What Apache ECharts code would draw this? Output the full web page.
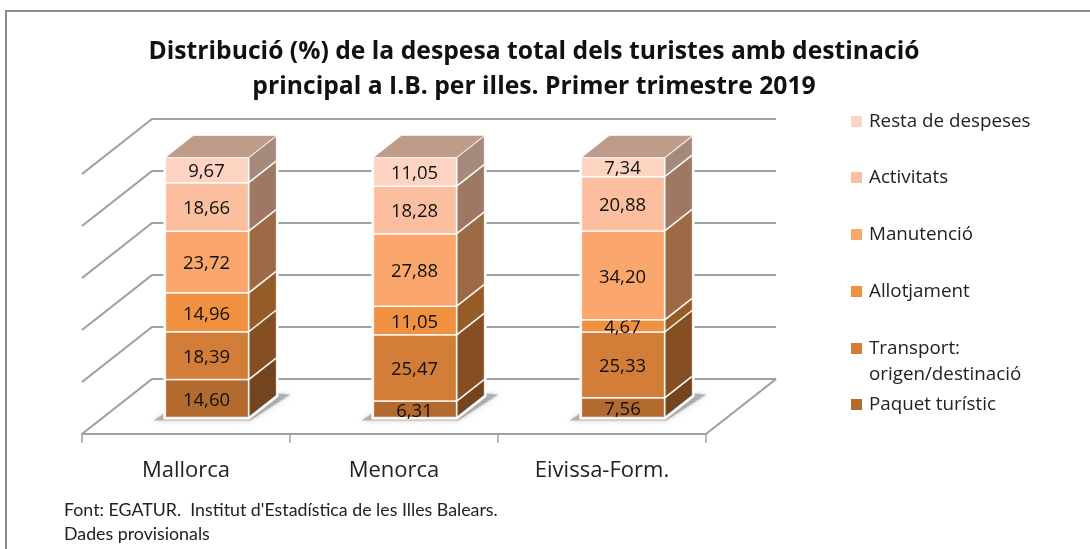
<!DOCTYPE html>
<html>
<head>
<meta charset="utf-8">
<title>Distribució de la despesa</title>
<script src="https://cdn.jsdelivr.net/npm/echarts@6/dist/echarts.min.js"></script>
<style>
html, body { margin: 0; background: #fff; }
#main { width: 1090px; height: 549px; }
</style>
</head>
<body>
<div id="main"></div>
<script>
const categories = ['Mallorca', 'Menorca', 'Eivissa-Form.'];
const yTicks = [0, 20, 40, 60, 80, 100];

// de baix a dalt, igual que la pila
const paquet = [14.60, 6.31, 7.56];
const transport = [18.39, 25.47, 25.33];
const allotjament = [14.96, 11.05, 4.67];
const manutencio = [23.72, 27.88, 34.20];
const activitats = [18.66, 18.28, 20.88];
const resta = [9.67, 11.05, 7.34];

const seriesNames = ['Paquet turístic', 'Transport:', 'Allotjament', 'Manutenció', 'Activitats', 'Resta de despeses'];
const seriesValues = [paquet, transport, allotjament, manutencio, activitats, resta];
const frontColors = ['#b36a2f', '#d27e38', '#ef9140', '#fba66c', '#fbbe9f', '#fdd3c1'];
const sideColors = ['#74441e', '#864f23', '#965c28', '#9c6b46', '#9e7862', '#a4897c'];
const topColor = '#bf9b89';
const legendTops = [395, 339, 282, 225, 168, 112];

// profunditat del dibuix 3D
const depthX = 70;
const depthY = 55;
const barFront = 0.3;
const barBack = 0.7;
const barRatio = 0.4;
const gridColor = '#a0a0a0';

function project(p, d) {
	return [p[0] + d * depthX, p[1] - d * depthY];
}

function renderWall(params, api) {
	const cs = params.coordSys;
	const y = api.coord([0, api.value(0)])[1];
	const left = [cs.x, y];
	const right = [cs.x + cs.width, y];
	const lineStyle = { stroke: gridColor, lineWidth: 2.2, fill: null };
	const children = [{
		type: 'polyline',
		shape: { points: [left, project(left, 1), project(right, 1)] },
		style: lineStyle
	}];
	// lateral dret del terra
	if (params.dataIndex === 0) {
		children.push({
			type: 'polyline',
			shape: { points: [right, project(right, 1)] },
			style: lineStyle
		});
	}
	return { type: 'group', children: children };
}

function barCorners(api, idx, value) {
	const c = api.coord([idx, value]);
	const w = api.size([1, 0])[0] * barRatio;
	const fl = project([c[0] - w / 2, c[1]], barFront);
	const fr = project([c[0] + w / 2, c[1]], barFront);
	const bl = project([c[0] - w / 2, c[1]], barBack);
	const br = project([c[0] + w / 2, c[1]], barBack);
	return { fl: fl, fr: fr, bl: bl, br: br };
}

function renderBackdrop(params, api) {
	const idx = params.dataIndex;
	const low = barCorners(api, idx, 0);
	const high = barCorners(api, idx, 100);
	const o = low.fl;
	return {
		type: 'group',
		children: [{
			type: 'polygon',
			shape: { points: [
				[o[0] - 12, o[1] + 3],
				[o[0] + 85, o[1] + 3],
				[o[0] + 125, o[1] - 23],
				[o[0] + 113, o[1] - 24],
				[o[0] + 30, o[1] - 24]
			] },
			style: { fill: 'rgba(160,160,160,0.75)', shadowBlur: 5, shadowColor: 'rgba(170,170,170,0.8)' }
		}, {
			type: 'polygon',
			shape: { points: [low.fl, low.fr, low.br, high.br, high.bl, high.fl] },
			style: { fill: '#fff', stroke: '#fff', lineWidth: 4 }
		}]
	};
}

function renderSegment(params, api) {
	const idx = params.dataIndex;
	const sIdx = params.seriesIndex - 2;
	const low = barCorners(api, idx, api.value(1));
	const high = barCorners(api, idx, api.value(2));
	const edge = { stroke: 'rgba(255,255,255,0.85)', lineWidth: 1.5 };
	const children = [{
		type: 'polygon',
		shape: { points: [low.fr, low.br, high.br, high.fr] },
		style: Object.assign({ fill: sideColors[sIdx] }, edge)
	}, {
		type: 'rect',
		shape: { x: low.fl[0], y: high.fl[1], width: low.fr[0] - low.fl[0], height: low.fl[1] - high.fl[1] },
		style: Object.assign({ fill: frontColors[sIdx] }, edge)
	}];
	if (sIdx === seriesValues.length - 1) {
		children.push({
			type: 'polygon',
			shape: { points: [high.fl, high.fr, high.br, high.bl] },
			style: { fill: topColor, stroke: 'rgba(255,255,255,0.6)', lineWidth: 1 }
		});
	}
	children.push({
		type: 'text',
		style: {
			x: (low.fl[0] + low.fr[0]) / 2 - 0.5,
			y: (low.fl[1] + high.fl[1]) / 2 + 2,
			text: api.value(3).toFixed(2).replace('.', ','),
			fill: '#111',
			font: '18.5px "Open Sans"',
			align: 'center',
			verticalAlign: 'middle'
		}
	});
	return { type: 'group', children: children };
}

const segmentSeries = seriesValues.map(function (values, s) {
	return {
		name: seriesNames[s],
		type: 'custom',
		renderItem: renderSegment,
		clip: false,
		itemStyle: { color: frontColors[s] },
		encode: { x: 0, y: [1, 2] },
		data: values.map(function (v, i) {
			let base = 0;
			for (let k = 0; k < s; k++) {
				base += seriesValues[k][i];
			}
			return [i, base, base + v, v];
		})
	};
});

const legends = seriesNames.map(function (name, s) {
	return {
		data: [name],
		orient: 'vertical',
		left: 851,
		top: legendTops[s],
		padding: 0,
		icon: 'rect',
		itemWidth: 11,
		itemHeight: 11,
		selectedMode: false,
		textStyle: { fontFamily: 'Open Sans', fontSize: 18.8, color: '#222', padding: [0, 0, 0, 2] }
	};
});

const myChart = echarts.init(document.getElementById('main'));
myChart.setOption({
	animation: false,
	backgroundColor: '#fff',
	textStyle: { fontFamily: 'Open Sans' },
	title: {
		text: 'Distribució (%) de la despesa total dels turistes amb destinació\nprincipal a I.B. per illes. Primer trimestre 2019',
		left: 529,
		top: 29,
		textAlign: 'center',
		textStyle: { fontFamily: 'Open Sans', fontSize: 24.7, fontWeight: 'bold', color: '#111', lineHeight: 35 }
	},
	legend: legends,
	grid: { left: 82, width: 624, top: 174, height: 260 },
	xAxis: {
		type: 'category',
		data: categories,
		axisLine: { lineStyle: { color: gridColor, width: 2 } },
		axisTick: { show: true, length: 9, lineStyle: { color: gridColor, width: 1.5 } },
		axisLabel: { fontFamily: 'Open Sans', fontSize: 22, color: '#222', margin: 26 }
	},
	yAxis: {
		type: 'value',
		min: 0,
		max: 100,
		interval: 20,
		show: false
	},
	graphic: [{
		type: 'polyline',
		shape: { points: [[6, 549], [6, 11], [1090, 11]] },
		style: { stroke: '#8c8c8c', lineWidth: 2, fill: null },
		silent: true
	}, {
		type: 'text',
		style: { x: 869, y: 375, text: 'origen/destinació', font: '18.8px "Open Sans"', fill: '#222', verticalAlign: 'middle' }
	}, {
		type: 'text',
		style: { x: 64, y: 510, text: "Font: EGATUR.  Institut d'Estadística de les Illes Balears.", font: '17.8px Lato', fill: '#222', verticalAlign: 'middle' }
	}, {
		type: 'text',
		style: { x: 64, y: 534, text: 'Dades provisionals', font: '17.8px Lato', fill: '#222', verticalAlign: 'middle' }
	}],
	series: [{
		type: 'custom',
		renderItem: renderWall,
		clip: false,
		silent: true,
		encode: { y: 0 },
		data: yTicks.map(function (t) { return [t]; })
	}, {
		type: 'custom',
		renderItem: renderBackdrop,
		clip: false,
		silent: true,
		data: categories.map(function (c, i) { return [i, 100]; })
	}].concat(segmentSeries)
});
</script>
</body>
</html>
